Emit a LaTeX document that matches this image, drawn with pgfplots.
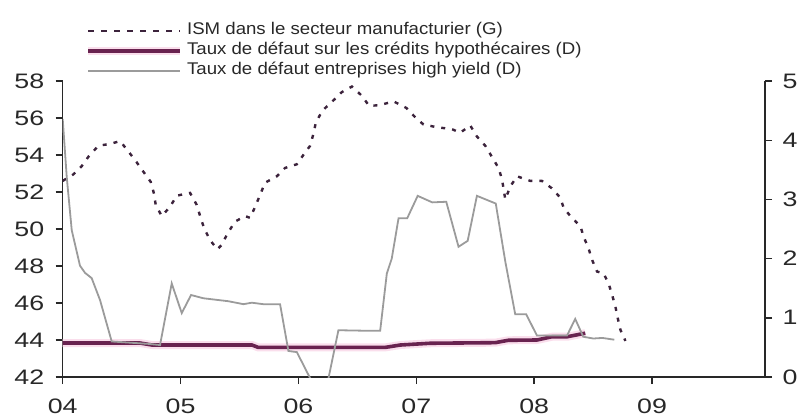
\documentclass[border=0pt]{standalone}
\usepackage{pgfplots}
\pgfplotsset{compat=1.18}
\usepackage{fontspec}
\setmainfont{Liberation Sans}
\newfontfamily\tickfont[FakeStretch=1.28]{Liberation Sans}
\newfontfamily\legfont[FakeStretch=1.1]{Liberation Sans}

\definecolor{ismcol}{RGB}{60,35,60}
\definecolor{mortcol}{RGB}{105,35,80}
\definecolor{halocol}{RGB}{250,222,236}
\definecolor{hycol}{RGB}{155,155,155}
\definecolor{axcol}{RGB}{40,40,40}

% ISM manufacturier (left axis), month index from Jan 2004
\pgfplotstableread{
m v
0.00 52.6
1.08 52.95
1.94 53.4
2.61 53.9
3.63 54.5
4.82 54.6
5.84 54.75
6.68 54.2
7.54 53.6
8.21 53.1
8.96 52.55
9.30 51.9
9.47 51.3
10.08 50.7
10.93 51.2
11.61 51.8
12.97 51.95
13.65 51.3
13.99 50.7
14.39 50.05
15.00 49.4
15.75 48.9
16.20 49.15
16.77 49.75
17.55 50.4
18.57 50.7
19.08 50.6
19.59 51.2
20.10 51.85
20.60 52.5
21.80 52.85
22.64 53.3
23.84 53.5
24.50 54.0
25.19 54.5
25.53 55.15
25.77 55.75
26.44 56.4
27.46 56.9
28.42 57.4
29.44 57.7
30.46 57.2
31.20 56.65
32.32 56.7
33.68 56.9
34.97 56.55
35.96 56.0
36.73 55.65
38.10 55.5
39.62 55.4
40.47 55.2
41.49 55.6
42.17 55.0
43.02 54.5
43.70 53.9
44.37 53.3
44.72 52.7
45.06 51.6
45.57 52.3
46.25 52.85
47.60 52.6
48.79 52.6
49.80 52.2
50.65 51.7
51.00 51.15
51.68 50.7
52.70 50.15
53.10 49.5
53.54 48.95
53.88 48.35
54.40 47.7
55.07 47.6
55.58 47.05
55.93 46.45
56.27 45.8
56.50 45.2
56.78 44.55
57.29 43.95
}\ismtable

% Taux de defaut sur les credits hypothecaires (right axis)
\pgfplotstableread{
m v
0.00 0.574
7.87 0.574
9.10 0.54
19.28 0.54
19.90 0.50
32.83 0.50
34.36 0.54
37.40 0.57
44.04 0.58
45.36 0.62
48.28 0.625
49.81 0.68
51.37 0.68
53.20 0.74
}\morttable

% Taux de defaut high yield (right axis)
\pgfplotstableread{
m v
0.00 4.36
0.41 3.38
0.92 2.48
1.76 1.88
2.27 1.76
2.95 1.67
3.80 1.30
4.99 0.60
8.69 0.56
9.91 0.54
11.10 1.58
12.12 1.08
13.07 1.385
14.32 1.33
16.87 1.28
18.40 1.23
19.25 1.255
20.43 1.23
22.13 1.23
22.98 0.44
23.84 0.42
25.19 -0.02
26.10 -0.30
27.06 -0.02
28.07 0.79
31.30 0.78
32.32 0.78
33.00 1.75
33.50 2.00
34.19 2.68
35.07 2.68
36.14 3.06
37.62 2.95
39.05 2.96
40.30 2.20
41.23 2.30
42.17 3.06
44.09 2.93
45.06 1.95
46.07 1.06
47.19 1.06
48.28 0.70
51.34 0.70
52.18 0.98
53.00 0.68
54.02 0.65
54.94 0.66
56.16 0.63
}\hytable

\pgfplotsset{
  base/.style={
    at={(0,0)}, anchor=south west,
    scale only axis,
    width=702.3bp, height=296bp,
    xmin=0, xmax=71.5,
    tick align=outside,
    major tick length=7bp,
    axis line style={line width=1.4bp, axcol},
    every tick/.style={line width=1.4bp, axcol},
    /pgf/number format/assume math mode=true,
    tick label style={font=\tickfont\fontsize{21}{21}\selectfont, text=axcol},
  },
  legline/.style={legend image code/.code={\draw[##1] (0bp,0bp) -- (92bp,0bp);}},
  halolegend/.style={legend image code/.code={
      \draw[halocol, line width=8bp] (0bp,0bp) -- (92bp,0bp);
      \draw[##1] (0bp,0bp) -- (92bp,0bp);}},
}

\begin{document}
\begin{tikzpicture}
\path[use as bounding box] (-62.7bp,-39bp) rectangle (735.3bp,377bp);

% left axis: ISM
\begin{axis}[base,
  axis x line*=bottom, axis y line*=left,
  ymin=42, ymax=58,
  ytick={42,44,...,58},
  xtick={0,12,24,36,48,60},
  xticklabels={04,05,06,07,08,09},
  yticklabel style={xshift=-8bp},
  xticklabel style={yshift=-11bp},
]
\addplot[ismcol, line width=2.4bp, dash pattern=on 4bp off 7bp, line cap=butt]
  table[x=m, y=v] {\ismtable};
\end{axis}

% right axis: default rates
\begin{axis}[base,
  axis y line*=right, axis x line=none,
  ymin=0, ymax=5,
  ytick={0,1,...,5},
  yticklabel style={xshift=7bp},
  legend cell align=left,
  legend style={
    at={(rel axis cs:0.0305,1.203)}, anchor=north west,
    draw=none, fill=none, inner sep=0pt, outer sep=0pt,
    font=\legfont\fontsize{17}{17}\selectfont,
    nodes={inner sep=3bp, text height=10.5bp, text depth=3.5bp, text=axcol},
  },
  legline,
]
\addlegendimage{ismcol, line width=2.4bp, dash pattern=on 6bp off 7bp}
\addlegendentry{ISM dans le secteur manufacturier (G)}
\addlegendimage{mortcol, line width=3.6bp, halolegend}
\addlegendentry{Taux de défaut sur les crédits hypothécaires (D)}
\addlegendimage{hycol, line width=1.8bp}
\addlegendentry{Taux de défaut entreprises high yield (D)}

\addplot[halocol, line width=8bp, forget plot] table[x=m, y=v] {\morttable};
\addplot[mortcol, line width=3.6bp, forget plot] table[x=m, y=v] {\morttable};
\addplot[hycol, line width=1.8bp, forget plot] table[x=m, y=v] {\hytable};
\end{axis}
\end{tikzpicture}
\end{document}
